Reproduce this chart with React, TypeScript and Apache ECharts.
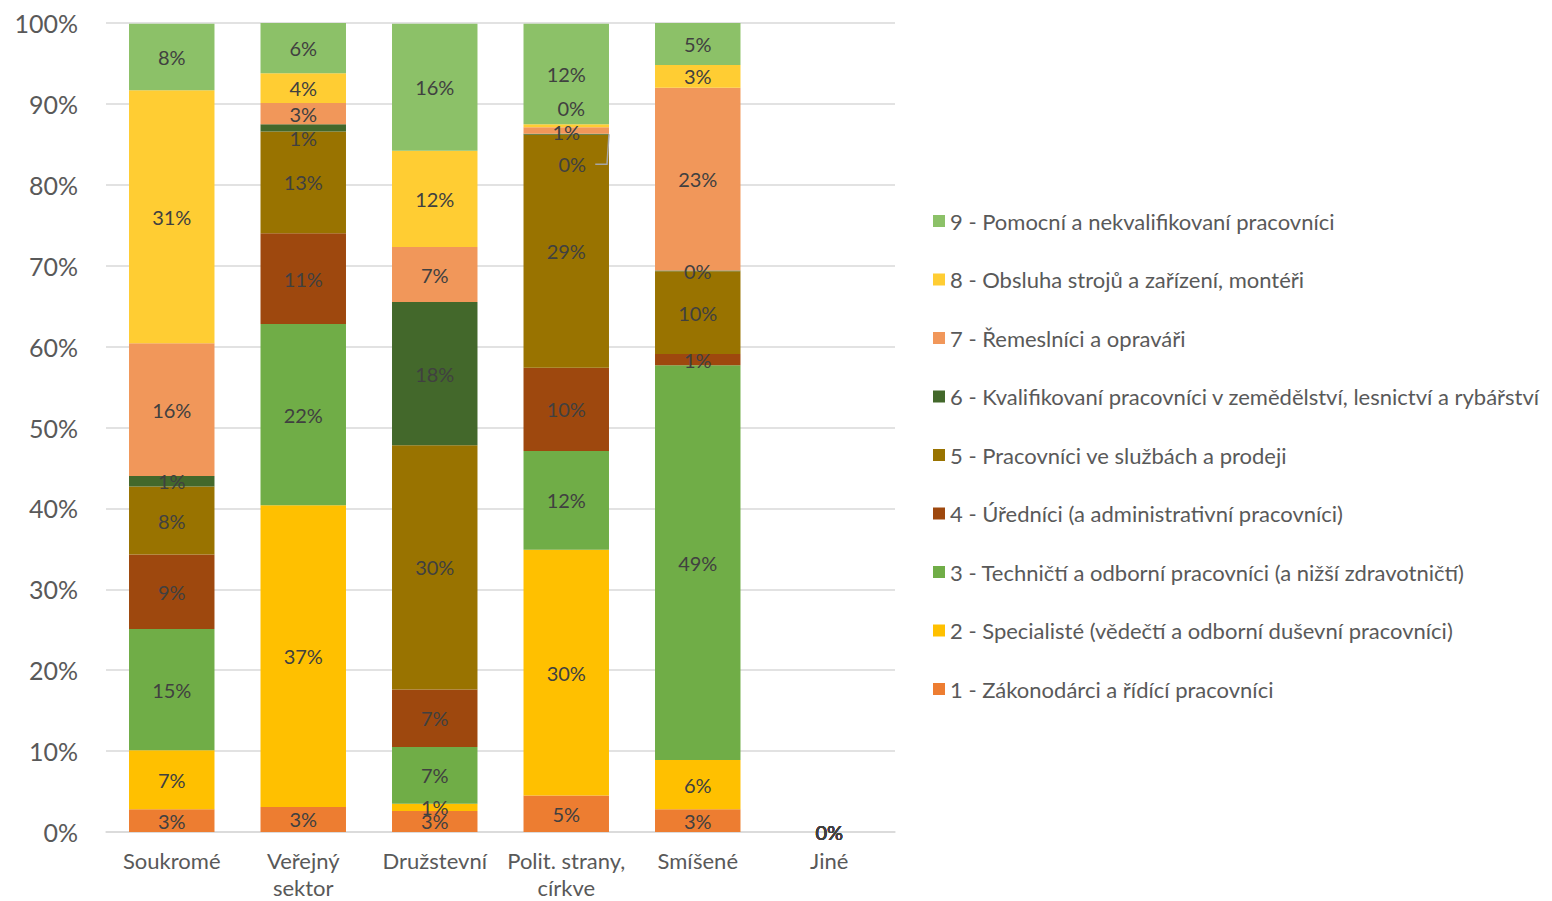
import React, { useEffect, useRef } from "react";
import * as echarts from "echarts";

const categories = ["Soukromé", "Veřejný\nsektor", "Družstevní", "Polit. strany,\ncírkve", "Smíšené", "Jiné"];

const seriesNames = [
  "1 - Zákonodárci a řídící pracovníci",
  "2 - Specialisté (vědečtí a odborní duševní pracovníci)",
  "3 - Techničtí a odborní pracovníci (a nižší zdravotničtí)",
  "4 - Úředníci (a administrativní pracovníci)",
  "5 - Pracovníci ve službách a prodeji",
  "6 - Kvalifikovaní pracovníci v zemědělství, lesnictví a rybářství",
  "7 - Řemeslníci a opraváři",
  "8 - Obsluha strojů a zařízení, montéři",
  "9 - Pomocní a nekvalifikovaní pracovníci",
];

const colors = ["#ED7D31", "#FFC000", "#70AD47", "#9E480E", "#997300", "#43682B", "#F1975A", "#FFCD33", "#8CC168"];

// values in % per category (Soukromé, Veřejný sektor, Družstevní, Polit. strany, Smíšené, Jiné)
const s1 = [2.8, 3.1, 2.6, 4.5, 2.8, 0];
const s2 = [7.3, 37.3, 0.9, 30.4, 6.1, 0];
const s3 = [15.0, 22.4, 7.0, 12.2, 48.8, 0];
const s4 = [9.2, 11.2, 7.1, 10.3, 1.4, 0];
const s5 = [8.4, 12.6, 30.2, 28.8, 10.2, 0];
const s6 = [1.3, 0.9, 17.7, 0.1, 0.1, 0];
const s7 = [16.4, 2.6, 6.8, 0.8, 22.6, 0];
const s8 = [31.3, 3.7, 11.9, 0.4, 2.8, 0];
const s9 = [8.2, 6.2, 15.7, 12.4, 5.2, 0];

const seriesValues = [s1, s2, s3, s4, s5, s6, s7, s8, s9];

const yTicks = { min: 0, max: 100, interval: 10 };

const FONT = "Lato";

export default function App() {
  const ref = useRef<HTMLDivElement>(null);

  useEffect(() => {
    if (!ref.current) return;
    const chart = echarts.init(ref.current, undefined, { renderer: "svg" });

    const LEADER_CAT = 3; // Polit. strany – series 6 label pulled down with a leader line
    const LEADER_DY = 30;

    // label tweaks (series index, category index) -> offset
    const tweak = (si: number, ci: number): any => {
      if (si === 5 && ci === 1) return { offset: [0, 10] };
      if (si === 5 && ci === LEADER_CAT) return { offset: [6, LEADER_DY] };
      if (si === 7 && ci === 3) return { offset: [5, -18] };
      if (si === 6 && ci === 3) return { offset: [0, 1] };
      return null;
    };

    const series = seriesValues.map((vals, si) => ({
      name: seriesNames[si],
      type: "bar",
      stack: "total",
      barCategoryGap: "35%",
      itemStyle: { color: colors[si] },
      label: {
        show: true,
        position: "inside",
        color: "#404040",
        fontFamily: FONT,
        fontSize: 20,
        formatter: (p: any) => Math.round(p.value) + "%",
      },
      data: vals.map((v, ci) => {
        const t = tweak(si, ci);
        if (!t) return v;
        return { value: v, label: t };
      }),
    }));

    chart.setOption({
      animation: false,
      backgroundColor: "#FFFFFF",
      grid: { left: 106, right: 657, top: 23, bottom: 69, containLabel: false, outerBoundsMode: "none" },
      legend: {
        orient: "vertical",
        left: 933,
        top: 210,
        padding: 0,
        icon: "rect",
        itemWidth: 12,
        itemHeight: 12,
        itemGap: 36.5,
        data: [...seriesNames].reverse(),
        textStyle: { color: "#595959", fontFamily: FONT, fontSize: 22, lineHeight: 22 },
        selectedMode: false,
      },
      xAxis: {
        type: "category",
        data: categories,
        axisLine: { lineStyle: { color: "#D9D9D9", width: 1.5 } },
        axisTick: { show: false },
        axisLabel: { color: "#595959", fontFamily: FONT, fontSize: 22, lineHeight: 27, margin: 15, interval: 0 },
      },
      yAxis: {
        type: "value",
        min: yTicks.min,
        max: yTicks.max,
        interval: yTicks.interval,
        axisLine: { show: false },
        axisTick: { show: false },
        splitLine: { lineStyle: { color: "#D9D9D9", width: 1.5 } },
        axisLabel: { color: "#595959", fontFamily: FONT, fontSize: 25, margin: 28, formatter: "{value}%" },
      },
      series,
    });

    // leader line for the displaced label, anchored through the chart's own scales
    let base = 0;
    for (let i = 0; i < 5; i++) base += seriesValues[i][LEADER_CAT];
    const segMid = base + s6[LEADER_CAT] / 2;
    const p0 = chart.convertToPixel({ gridIndex: 0 }, [LEADER_CAT, segMid]) as number[];
    const p1 = chart.convertToPixel({ gridIndex: 0 }, [LEADER_CAT + 1, segMid]) as number[];
    const halfBar = ((p1[0] - p0[0]) * 0.65) / 2;
    const labelY = p0[1] + LEADER_DY;
    chart.setOption({
      graphic: [
        {
          type: "polyline",
          silent: true,
          shape: {
            points: [
              [p0[0] + 29, labelY],
              [p0[0] + halfBar - 2, labelY],
              [p0[0] + halfBar, p0[1]],
            ],
          },
          style: { stroke: "#A6A6A6", lineWidth: 1.5, fill: "none" },
          z: 100,
        },
      ],
    });

    return () => chart.dispose();
  }, []);

  return <div ref={ref} style={{ width: 1552, height: 901, position: "absolute", left: 0, top: 0 }} />;
}
